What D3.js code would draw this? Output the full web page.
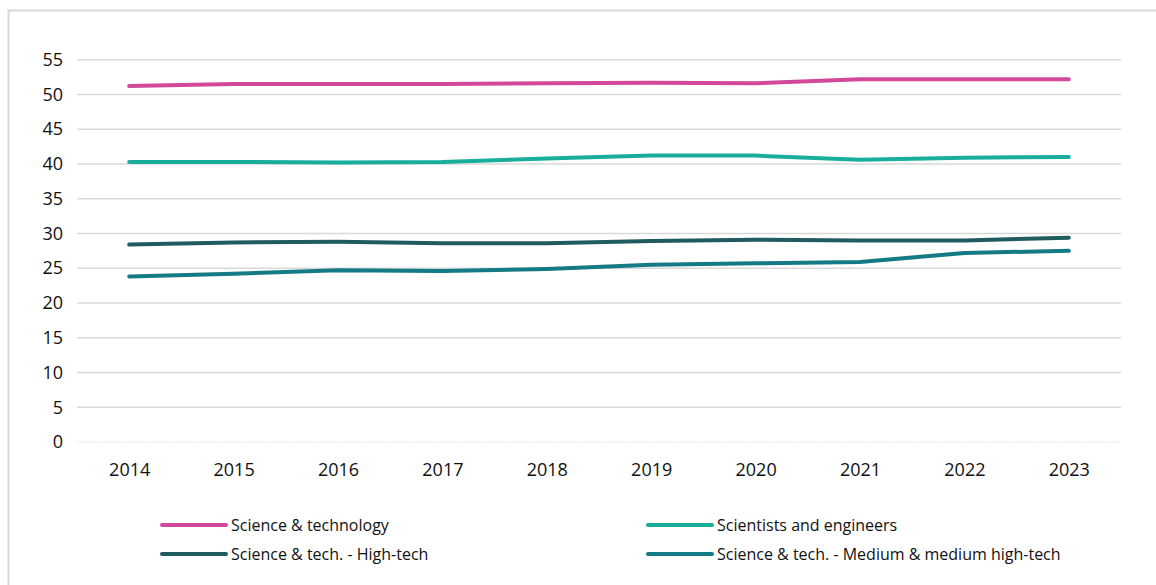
<!DOCTYPE html>
<html>
<head>
<meta charset="utf-8">
<script src="https://cdn.jsdelivr.net/npm/d3@7"></script>
<style>
  html, body { margin: 0; padding: 0; background: #fff; }
  svg { display: block; }
  text { font-family: "Open Sans", "Liberation Sans", sans-serif; fill: #111; }
</style>
</head>
<body>
<svg id="chart" width="1156" height="585"></svg>
<script>
// Share of employment (%) by category, 2014–2023
const years = ["2014","2015","2016","2017","2018","2019","2020","2021","2022","2023"];
const yTicks = [0, 5, 10, 15, 20, 25, 30, 35, 40, 45, 50, 55];

const scienceTech      = [51.2, 51.5, 51.5, 51.5, 51.6, 51.7, 51.6, 52.2, 52.2, 52.2];
const scientistsEng    = [40.3, 40.3, 40.2, 40.3, 40.8, 41.2, 41.2, 40.6, 40.9, 41.0];
const highTech         = [28.4, 28.7, 28.8, 28.6, 28.6, 28.9, 29.1, 29.0, 29.0, 29.4];
const mediumHighTech   = [23.8, 24.2, 24.7, 24.6, 24.9, 25.5, 25.7, 25.9, 27.2, 27.5];

const seriesNames  = ["Science & technology", "Scientists and engineers",
                      "Science & tech. - High-tech", "Science & tech. - Medium & medium high-tech"];
const seriesColors = ["#d2489b", "#19ad9c", "#1f5b5f", "#137a86"];
const seriesValues = [scienceTech, scientistsEng, highTech, mediumHighTech];

const svg = d3.select("#chart");

// outer frame
svg.append("rect")
  .attr("x", 8.5).attr("y", 10.5)
  .attr("width", 1160).attr("height", 600)
  .attr("fill", "none").attr("stroke", "#d9d9d9").attr("stroke-width", 2);

const x = d3.scalePoint().domain(years).range([77, 1121]).padding(0.5);
const y = d3.scaleLinear().domain([0, 55]).range([442, 59.7]);

// horizontal gridlines
const grid = svg.append("g");
grid.selectAll("line")
  .data(yTicks)
  .join("line")
  .attr("x1", 77).attr("x2", 1121)
  .attr("y1", d => y(d)).attr("y2", d => y(d))
  .attr("stroke", "#d9d9d9")
  .attr("stroke-width", d => d === 0 ? 1 : 1.5)
  .attr("stroke-dasharray", d => d === 0 ? "1.5,1.5" : null);

// y axis labels
const yAxis = svg.append("g")
  .attr("transform", "translate(63,0)")
  .call(d3.axisLeft(y).tickValues(yTicks).tickSize(0).tickPadding(0).tickFormat(d3.format("d")));
yAxis.select(".domain").remove();
yAxis.selectAll("text").attr("font-size", 18).style("font-family", "'Open Sans', sans-serif").attr("fill", "#111");

// x axis labels
const xAxis = svg.append("g")
  .attr("transform", "translate(0,463)")
  .call(d3.axisBottom(x).tickSize(0).tickPadding(0));
xAxis.select(".domain").remove();
xAxis.selectAll("text").attr("font-size", 18).style("font-family", "'Open Sans', sans-serif").attr("fill", "#111");

// series lines
const line = d3.line().x((d, i) => x(years[i])).y(d => y(d));
svg.append("g").selectAll("path")
  .data(seriesValues)
  .join("path")
  .attr("d", d => line(d))
  .attr("fill", "none")
  .attr("stroke", (d, i) => seriesColors[i])
  .attr("stroke-width", 4)
  .attr("stroke-linecap", "round")
  .attr("stroke-linejoin", "round");

// legend
const legendPos = [[162, 525], [648, 525], [162, 554], [648, 554]];
const legend = svg.append("g").selectAll("g")
  .data(seriesNames)
  .join("g")
  .attr("transform", (d, i) => `translate(${legendPos[i][0]},${legendPos[i][1]})`);
legend.append("line")
  .attr("x1", 0).attr("x2", 64).attr("y1", 0).attr("y2", 0)
  .attr("stroke", (d, i) => seriesColors[i])
  .attr("stroke-width", 4)
  .attr("stroke-linecap", "round");
legend.append("text")
  .attr("x", 69).attr("y", 0)
  .attr("dy", "0.35em")
  .attr("font-size", 16)
  .text(d => d);
</script>
</body>
</html>
